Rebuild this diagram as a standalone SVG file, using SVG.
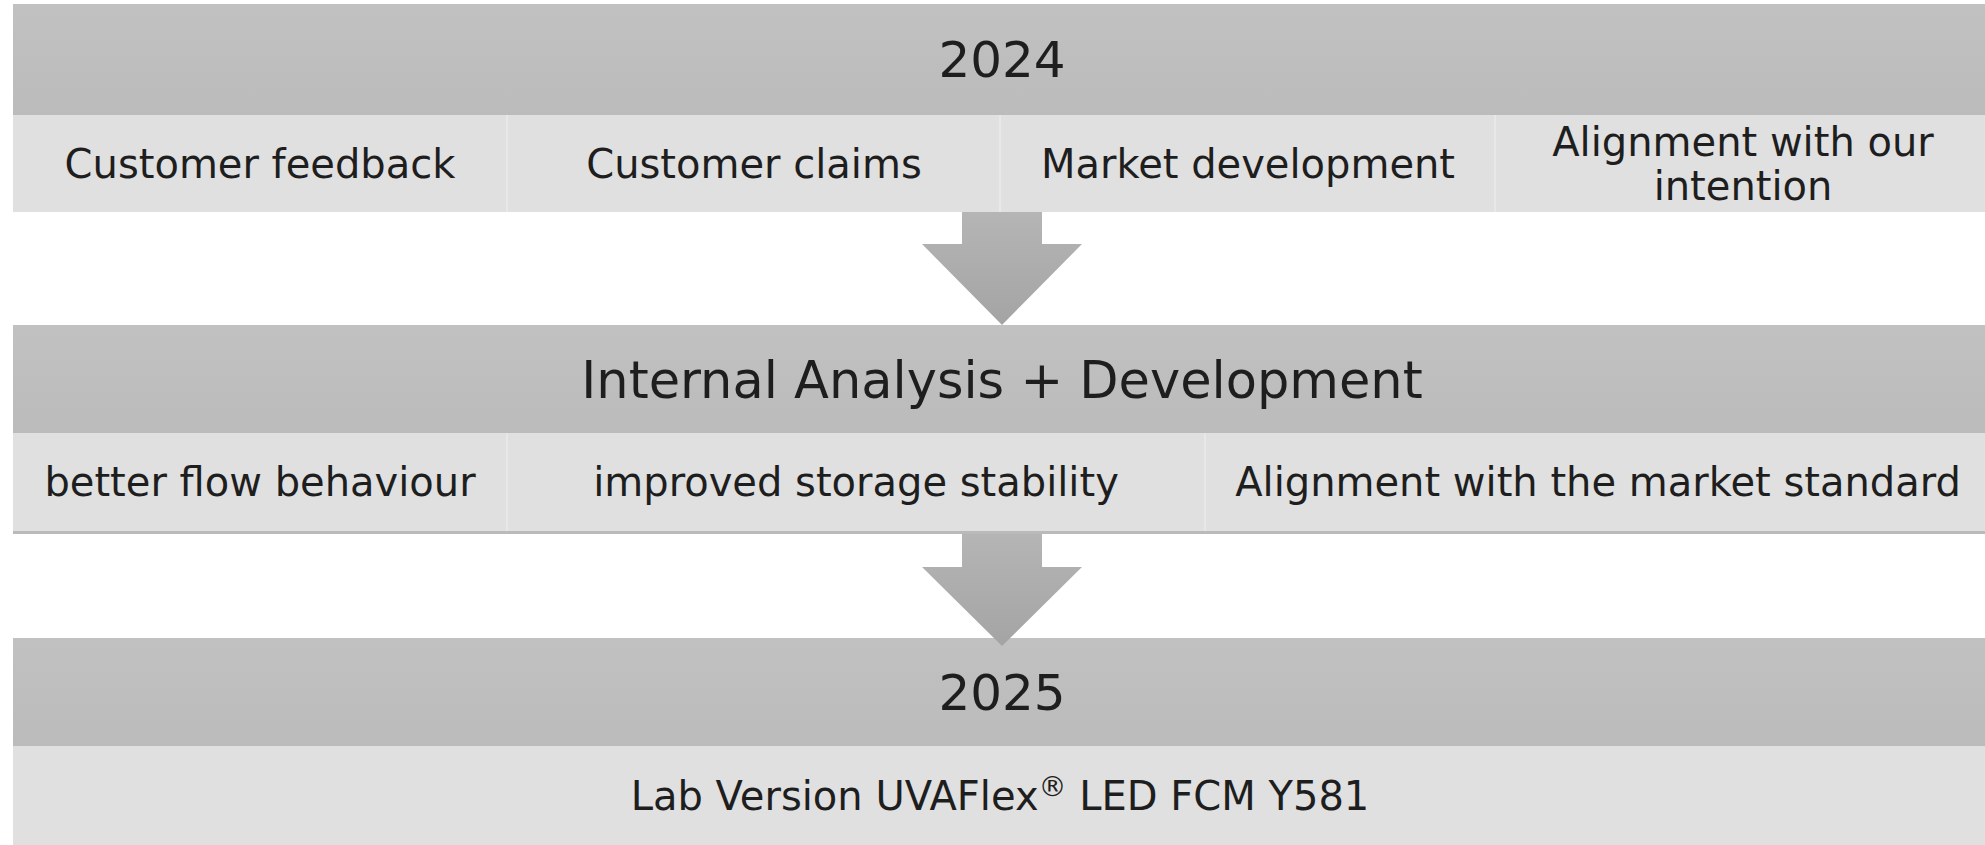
<svg xmlns="http://www.w3.org/2000/svg" width="1985" height="845" viewBox="0 0 1985 845">
<style>
.hdr{fill:url(#hdrGrad);}
.cell{fill:#e0e0e0;}
.div{stroke:#e8e8e8;stroke-width:2;}
.t{font-family:"DejaVu Sans","Verdana",sans-serif;fill:#1e1e1e;text-anchor:middle;}
.h{font-size:50px;}
.h2{font-size:51px;}
.c{font-size:40px;}
.arrow{fill:url(#arrGrad);}
</style>
<defs>
<linearGradient id="hdrGrad" x1="0" y1="0" x2="0" y2="1">
<stop offset="0" stop-color="#c1c1c1"/>
<stop offset="1" stop-color="#bbbbbb"/>
</linearGradient>
<linearGradient id="arrGrad" x1="0" y1="0" x2="0" y2="1">
<stop offset="0" stop-color="#b5b5b5"/>
<stop offset="1" stop-color="#a4a4a4"/>
</linearGradient>
</defs>
<rect x="0" y="0" width="1985" height="845" fill="#ffffff"/>

<g id="band-2024">
<rect class="hdr" x="13" y="4" width="1980" height="111"/>
<text class="t h" x="1002" y="77">2024</text>
</g>
<g id="cell-customer-feedback">
<rect class="cell" x="13" y="115" width="494" height="97"/>
<text class="t c" x="260" y="178">Customer feedback</text>
</g>
<g id="cell-customer-claims">
<rect class="cell" x="507" y="115" width="493" height="97"/>
<text class="t c" x="754" y="178">Customer claims</text>
</g>
<g id="cell-market-development">
<rect class="cell" x="1000" y="115" width="495" height="97"/>
<text class="t c" x="1248" y="178">Market development</text>
</g>
<g id="cell-alignment-intention">
<rect class="cell" x="1495" y="115" width="498" height="97"/>
<text class="t c" x="1743" y="156">Alignment with our</text>
<text class="t c" x="1743" y="200">intention</text>
</g>
<g id="row1-dividers">
<line class="div" x1="507" y1="115" x2="507" y2="212"/>
<line class="div" x1="1000" y1="115" x2="1000" y2="212"/>
<line class="div" x1="1495" y1="115" x2="1495" y2="212"/>
</g>

<g id="band-internal">
<rect class="hdr" x="13" y="325" width="1980" height="108"/>
<text class="t h2" x="1002" y="398">Internal Analysis + Development</text>
</g>
<g id="cell-flow">
<rect class="cell" x="13" y="433" width="494" height="98"/>
<text class="t c" x="260" y="496">better flow behaviour</text>
</g>
<g id="cell-storage">
<rect class="cell" x="507" y="433" width="698" height="98"/>
<text class="t c" x="856" y="496">improved storage stability</text>
</g>
<g id="cell-market-standard">
<rect class="cell" x="1205" y="433" width="788" height="98"/>
<text class="t c" x="1598" y="496">Alignment with the market standard</text>
</g>
<g id="row2-dividers">
<line class="div" x1="507" y1="433" x2="507" y2="531"/>
<line class="div" x1="1205" y1="433" x2="1205" y2="531"/>
<rect x="13" y="531" width="1980" height="3" fill="#bababa"/>
</g>

<g id="band-2025">
<rect class="hdr" x="13" y="638" width="1980" height="108"/>
<text class="t h" x="1002" y="710">2025</text>
</g>
<g id="cell-lab-version">
<rect class="cell" x="13" y="746" width="1980" height="99"/>
<text class="t c" x="1000" y="810">Lab Version UVAFlex<tspan font-size="28" dy="-14">®</tspan><tspan dy="14"> LED FCM Y581</tspan></text>
</g>

<g id="connectors">
<polygon class="arrow" points="962,212 1042,212 1042,244 1082,244 1002,325 922,244 962,244"/>
<polygon class="arrow" points="962,534 1042,534 1042,567 1082,567 1002,646 922,567 962,567"/>
</g>
</svg>
